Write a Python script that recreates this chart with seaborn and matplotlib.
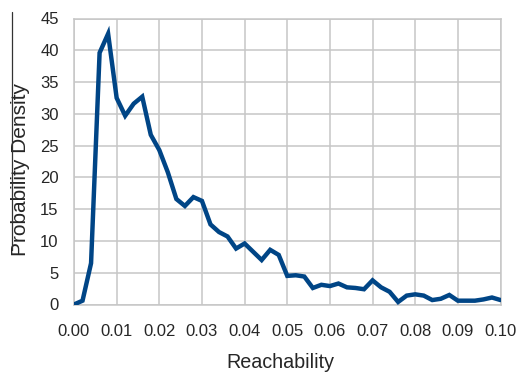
import matplotlib
matplotlib.use("Agg")
import matplotlib.pyplot as plt
import seaborn as sns
import pandas as pd

# Reachability sample points (step 0.002) and estimated density
reachability = [0.000, 0.002, 0.004, 0.006, 0.008, 0.010, 0.012, 0.014, 0.016, 0.018,
                0.020, 0.022, 0.024, 0.026, 0.028, 0.030, 0.032, 0.034, 0.036, 0.038,
                0.040, 0.042, 0.044, 0.046, 0.048, 0.050, 0.052, 0.054, 0.056, 0.058,
                0.060, 0.062, 0.064, 0.066, 0.068, 0.070, 0.072, 0.074, 0.076, 0.078,
                0.080, 0.082, 0.084, 0.086, 0.088, 0.090, 0.092, 0.094, 0.096, 0.098,
                0.100]
density = [0.0, 0.6, 6.5, 39.6, 42.6, 32.5, 29.7, 31.6, 32.7, 26.7,
           24.3, 20.8, 16.6, 15.5, 16.9, 16.3, 12.6, 11.4, 10.7, 8.8,
           9.6, 8.3, 7.0, 8.6, 7.8, 4.5, 4.6, 4.4, 2.6, 3.1,
           2.9, 3.3, 2.7, 2.6, 2.4, 3.8, 2.7, 2.0, 0.4, 1.4,
           1.6, 1.4, 0.7, 0.9, 1.5, 0.6, 0.6, 0.6, 0.8, 1.1,
           0.7]

x_ticks = [0.00, 0.01, 0.02, 0.03, 0.04, 0.05, 0.06, 0.07, 0.08, 0.09, 0.10]
y_ticks = [0, 5, 10, 15, 20, 25, 30, 35, 40, 45]

df = pd.DataFrame({"Reachability": reachability, "Probability Density": density})

sns.set_theme(style="white")
plt.rcParams["font.family"] = ["Liberation Sans", "DejaVu Sans"]

W, H = 519, 372
fig = plt.figure(figsize=(W / 100, H / 100), dpi=100)
ax = fig.add_axes([74 / W, 1 - 304.5 / H, 426.5 / W, 286 / H])

grid_color = "#c6c6c6"
text_color = "#262626"
sns.lineplot(data=df, x="Reachability", y="Probability Density", ax=ax,
             color="#004586", linewidth=3.2, solid_joinstyle="miter", zorder=3)

ax.set_xlim(0, 0.10)
ax.set_ylim(0, 45)
ax.set_xticks(x_ticks)
ax.set_xticklabels([f"{t:.2f}" for t in x_ticks])
ax.set_yticks(y_ticks)
ax.set_yticklabels([str(t) for t in y_ticks])
ax.grid(True, color=grid_color, linewidth=1.1)
for side in ["top", "right", "left", "bottom"]:
    ax.spines[side].set_color(grid_color)
    ax.spines[side].set_linewidth(1.1)
ax.tick_params(axis="both", which="major", length=6, width=1.1, color=grid_color,
               labelsize=12, labelcolor=text_color, direction="out")
ax.tick_params(axis="x", pad=8)
ax.tick_params(axis="y", pad=5)
for lab in ax.get_xticklabels() + ax.get_yticklabels():
    lab.set_clip_on(False)

ax.set_xlabel("Reachability", fontsize=14.2, color=text_color)
ax.set_ylabel("Probability Density", fontsize=15, color=text_color)
ax.xaxis.label.set_verticalalignment("center")
ax.yaxis.label.set_verticalalignment("center")
ax.xaxis.set_label_coords((280 - 74) / 426.5, -(362.5 - 304.5) / 286)
ax.yaxis.set_label_coords(-(74 - 20) / 426.5, (304.5 - 169) / 286)

# thin vertical rule along the left edge
fig.add_artist(plt.Line2D([12 / W, 12 / W], [1 - 12 / H, 1 - 250 / H],
                          color="#333333", linewidth=0.9))

fig.savefig("out.png", dpi=100)
